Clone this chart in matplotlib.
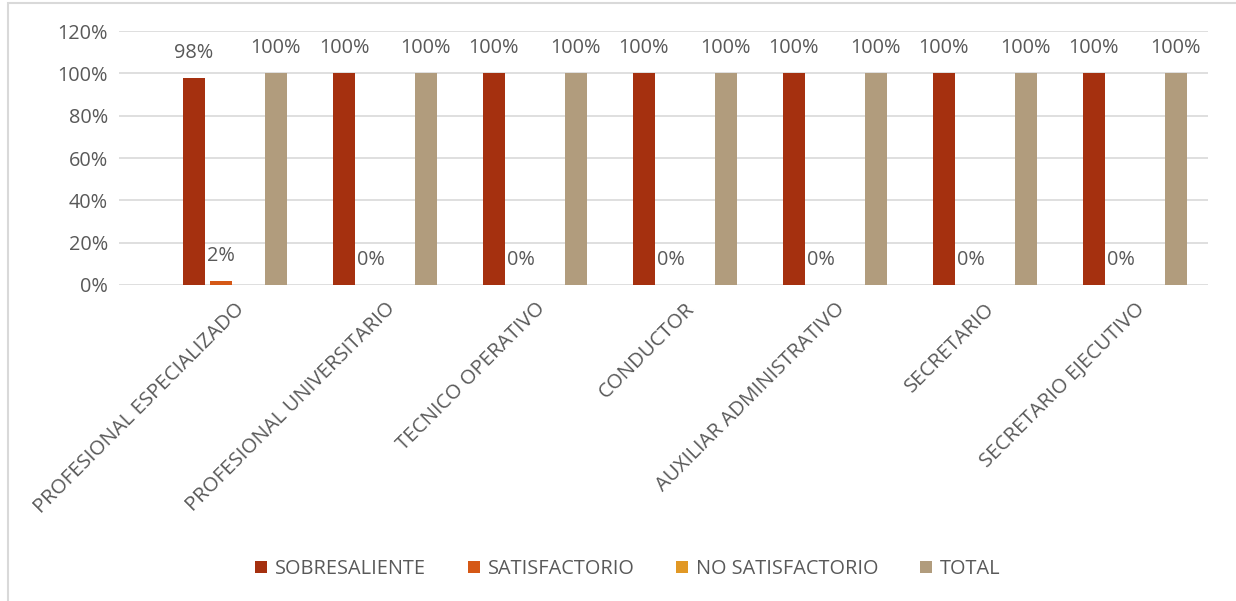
import numpy as np
import matplotlib.pyplot as plt
from matplotlib.patches import Rectangle

plt.rcParams['font.family'] = ['Open Sans', 'DejaVu Sans']

categorias = ['PROFESIONAL ESPECIALIZADO', 'PROFESIONAL UNIVERSITARIO', 'TECNICO OPERATIVO',
              'CONDUCTOR', 'AUXILIAR ADMINISTRATIVO', 'SECRETARIO', 'SECRETARIO EJECUTIVO']
sobresaliente = [98, 100, 100, 100, 100, 100, 100]
satisfactorio = [2, 0, 0, 0, 0, 0, 0]
no_satisfactorio = [0, 0, 0, 0, 0, 0, 0]
total = [100, 100, 100, 100, 100, 100, 100]

series = [('SOBRESALIENTE', sobresaliente, '#A5300F', True),
          ('SATISFACTORIO', satisfactorio, '#D55816', True),
          ('NO SATISFACTORIO', no_satisfactorio, '#E19825', False),
          ('TOTAL', total, '#B19C7D', True)]

gris = '#595959'
fs = 14.3
fig = plt.figure(figsize=(12.36, 6.01), dpi=100)
ax = fig.add_axes([0.0963, 0.5258, 0.881, 0.4226])

x = np.arange(len(categorias))
w = 0.182
for k, (nombre, vals, color, etiqueta) in enumerate(series):
    pos = x + (k - 1.5) * w
    ax.bar(pos, vals, width=w * 0.8, color=color, label=nombre, zorder=3)
    if etiqueta:
        for p, v in zip(pos, vals):
            ax.annotate(f'{v}%', (p, v), xytext=(0, 18), textcoords='offset points',
                        ha='center', va='center', fontsize=fs, color=gris)

ax.set_xlim(-0.773, 6.487)
ax.set_ylim(0, 120)
ax.set_yticks(range(0, 121, 20))
ax.set_yticklabels([f'{v}%' for v in range(0, 121, 20)], fontsize=fs, color=gris)
ax.set_xticks(x)
ax.set_xticklabels(categorias, rotation=45, ha='right', rotation_mode='anchor',
                   fontsize=14.7, color=gris)
ax.tick_params(axis='y', length=0, pad=8)
ax.tick_params(axis='x', length=0, pad=10)
ax.grid(axis='y', color='#D9D9D9', linewidth=1.2, zorder=0)
for s in ax.spines.values():
    s.set_visible(False)

ax.legend(loc='center', bbox_to_anchor=(0.508, 0.053), bbox_transform=fig.transFigure,
          ncol=4, frameon=False, fontsize=fs, labelcolor=gris, handlelength=0.6,
          handleheight=0.6, columnspacing=2.1, handletextpad=0.4)

fig.patches.append(Rectangle((0.0065, -0.01), 1.2, 1.005, transform=fig.transFigure,
                             fill=False, edgecolor='#D9D9D9', linewidth=1.5))

fig.savefig('out.png', dpi=100)
